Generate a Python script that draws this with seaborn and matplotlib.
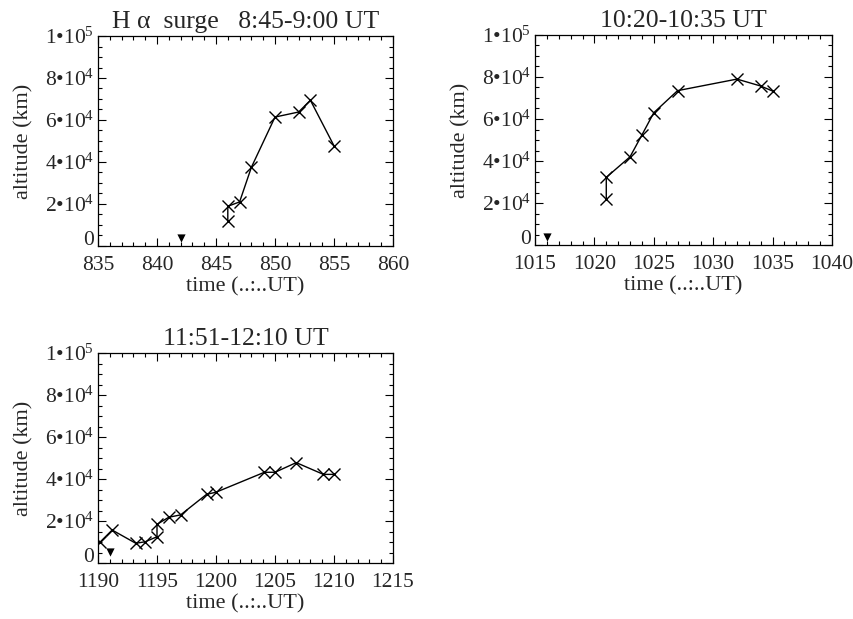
import numpy as np
import pandas as pd
import matplotlib
matplotlib.use("Agg")
import matplotlib.pyplot as plt
import matplotlib.transforms as mtransforms
import seaborn as sns
from matplotlib.ticker import MultipleLocator

# --- data ---
t1 = [846.0, 846.0, 847.0, 848.0, 850.0, 852.0, 853.0, 855.0]
h1 = [12000, 18900, 21000, 37500, 61400, 63800, 69400, 47700]
tri1_t, tri1_h = [842.0], [3800]

t2 = [1021.0, 1021.0, 1023.0, 1024.0, 1025.0, 1027.0, 1032.0, 1034.0, 1035.0]
h2 = [21800, 32200, 42000, 52400, 63000, 73500, 79000, 75700, 73300]
tri2_t, tri2_h = [1016.0], [3800]

t3 = [1190.2, 1191.2, 1193.2, 1194.0, 1195.0, 1195.0, 1196.0, 1197.0,
      1199.2, 1200.0, 1204.1, 1205.0, 1206.8, 1209.1, 1210.0]
h3 = [10100, 15700, 9400, 10100, 12500, 18400, 21800, 22900,
      32700, 33700, 43200, 43200, 47800, 42200, 42200]
tri3_t, tri3_h = [1191.0], [5200]

titles = ["H \u03b1  surge   8:45-9:00 UT", "10:20-10:35 UT", "11:51-12:10 UT"]
xranges = [(835, 860), (1015, 1040), (1190, 1215)]
yticks = [0, 20000, 40000, 60000, 80000, 100000]
ytick_labels = ["0", "2\u202210$^{4}$", "4\u202210$^{4}$", "6\u202210$^{4}$",
                "8\u202210$^{4}$", "1\u202210$^{5}$"]

sns.set_style("ticks")
plt.rcParams['font.family'] = ['Liberation Serif', 'DejaVu Serif']
plt.rcParams['mathtext.fontset'] = 'custom'
plt.rcParams['mathtext.rm'] = 'Liberation Serif'
plt.rcParams['mathtext.it'] = 'Liberation Serif:italic'

W, H = 854, 619
fig = plt.figure(figsize=(W / 100, H / 100), dpi=100)

# pixel boxes: left, top, right, bottom
boxes = [(98, 36, 393, 246), (535, 35, 832, 245), (98, 353, 393, 563)]
series = [(t1, h1, tri1_t, tri1_h), (t2, h2, tri2_t, tri2_h), (t3, h3, tri3_t, tri3_h)]

for (l, tp, r, b), (tt, hh, trt, trh), title, xr in zip(boxes, series, titles, xranges):
    ax = fig.add_axes([l / W, 1 - b / H, (r - l) / W, (b - tp) / H])
    df = pd.DataFrame({"time": tt, "alt": hh})
    sns.lineplot(data=df, x="time", y="alt", ax=ax, estimator=None, sort=False,
                 color="black", linewidth=1.0, marker="x", markersize=8,
                 markeredgewidth=1.0, markeredgecolor="black")
    sns.scatterplot(x=trt, y=trh, ax=ax, marker="v", color="black", s=35,
                    edgecolor="black", linewidth=0)
    ax.set_xlim(*xr)
    ax.set_ylim(0, 100000)
    ax.xaxis.set_major_locator(MultipleLocator(5))
    ax.xaxis.set_minor_locator(MultipleLocator(1))
    ax.set_yticks(yticks)
    ax.set_yticklabels(ytick_labels)
    ax.yaxis.set_minor_locator(MultipleLocator(5000))
    ax.tick_params(which="both", direction="in", top=True, right=True,
                   labelsize=15.5, color="black", width=0.8)
    ax.tick_params(which="major", length=6)
    ax.tick_params(which="minor", length=3)
    ax.tick_params(axis="x", which="major", pad=7)
    ax.tick_params(axis="y", which="major", pad=3)
    # the "0" label sits a little above the axis line in the reference
    zero = ax.get_yticklabels()[0]
    zero.set_transform(zero.get_transform() +
                       mtransforms.ScaledTranslation(0, 6 / 72, fig.dpi_scale_trans))
    for sp in ax.spines.values():
        sp.set_linewidth(0.9)
        sp.set_color("black")
    ax.set_xlabel("time (..:..UT)", fontsize=16, labelpad=2)
    ax.set_ylabel("altitude (km)", fontsize=16, labelpad=8)
    ax.set_title(title, fontsize=18.5, pad=6)

fig.savefig("out.png", dpi=100)
